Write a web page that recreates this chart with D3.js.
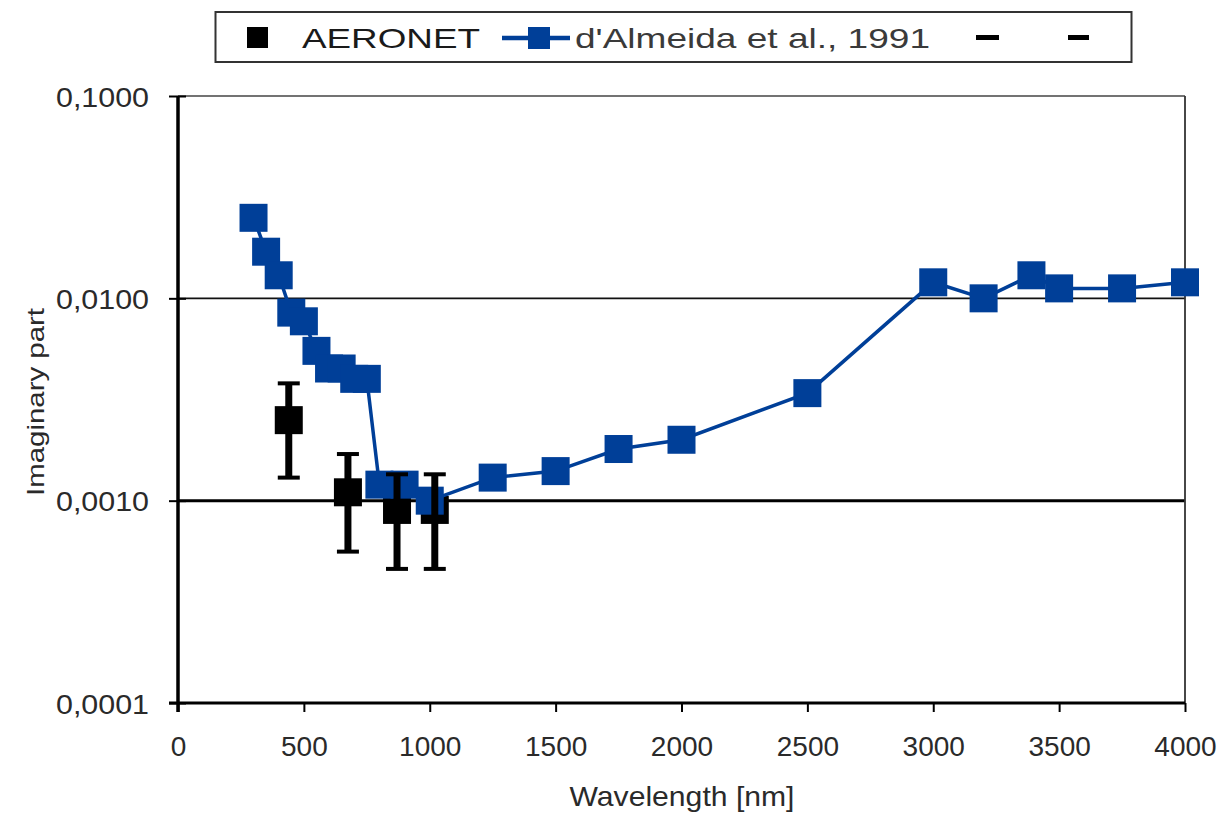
<!DOCTYPE html>
<html>
<head>
<meta charset="utf-8">
<script src="https://cdn.jsdelivr.net/npm/d3@7"></script>
<style>
  html, body { margin: 0; padding: 0; background: #fff; }
  svg { display: block; font-family: "Liberation Sans", Arial, sans-serif; }
</style>
</head>
<body>
<svg id="chart" width="1227" height="816"></svg>
<script>
// Wavelength grid and imaginary refractive index, d'Almeida et al. (1991)
const almeidaWavelength = [300, 350, 400, 450, 500, 550, 600, 650, 700, 750, 800, 900, 1000,
                           1250, 1500, 1750, 2000, 2500, 3000, 3200, 3390, 3500, 3750, 4000];
const almeidaImag = [0.025, 0.017, 0.013, 0.0085, 0.0077, 0.0055, 0.0045, 0.0045, 0.0040, 0.0040,
                     0.0012, 0.0012, 0.0010, 0.0013, 0.0014, 0.0018, 0.0020, 0.0034,
                     0.012, 0.010, 0.013, 0.0112, 0.0112, 0.012];

// AERONET retrievals with their uncertainty range
const aeronetWavelength = [440, 675, 870, 1020];
const aeronetImag = [0.0025, 0.0011, 0.0009, 0.0009];
const aeronetUpper = [0.0038, 0.0017, 0.00135, 0.00135];
const aeronetLower = [0.0013, 0.00056, 0.00046, 0.00046];

// Axis ticks
const xTicks = [0, 500, 1000, 1500, 2000, 2500, 3000, 3500, 4000];
const yTicks = [0.0001, 0.001, 0.01, 0.1];

const legendNames = ["AERONET", "d'Almeida et al., 1991"];

const blue = "#003f98";
const svg = d3.select("#chart");

const x = d3.scaleLinear().domain([0, 4000]).range([178, 1185]);
const y = d3.scaleLog().domain([0.0001, 0.1]).range([703, 96]);

const commaFmt = d3.formatLocale({decimal: ",", thousands: ".", grouping: [3], currency: ["", ""]}).format(".4f");

// Horizontal gridlines at each decade
const gridW = {0.0001: 0, 0.001: 3, 0.01: 1.8, 0.1: 1.5};
const gridC = {0.0001: "#000", 0.001: "#000", 0.01: "#111", 0.1: "#444"};
svg.append("g").selectAll("line")
  .data(yTicks.filter(d => d > 0.0001))
  .join("line")
  .attr("x1", x(0)).attr("x2", x(4000))
  .attr("y1", d => y(d)).attr("y2", d => y(d))
  .attr("stroke", d => gridC[d])
  .attr("stroke-width", d => gridW[d]);

// Right border of the plot area
svg.append("line")
  .attr("x1", x(4000)).attr("x2", x(4000))
  .attr("y1", y(0.1)).attr("y2", y(0.0001))
  .attr("stroke", "#333").attr("stroke-width", 1.8);

// Y axis
const yAxis = svg.append("g")
  .attr("transform", `translate(${x(0)},0)`)
  .call(d3.axisLeft(y).tickValues(yTicks).tickFormat(commaFmt).tickSize(9).tickSizeOuter(0).tickPadding(20));
yAxis.select(".domain").remove();
yAxis.selectAll(".tick line").attr("stroke", "#000").attr("stroke-width", 2).attr("x2", -9).attr("x1", 8);
yAxis.selectAll(".tick text")
  .attr("font-size", 28).attr("fill", "#2a2a2a")
  .attr("font-family", "Liberation Sans, Arial, sans-serif")
  .attr("textLength", 93).attr("lengthAdjust", "spacingAndGlyphs")
  .attr("dy", "0.36em");

// X axis
const xAxis = svg.append("g")
  .attr("transform", `translate(0,${y(0.0001)})`)
  .call(d3.axisBottom(x).tickValues(xTicks).tickFormat(d3.format("d")).tickSize(9).tickSizeOuter(0).tickPadding(24));
xAxis.select(".domain").remove();
xAxis.selectAll(".tick line").attr("stroke", "#000").attr("stroke-width", 2);
xAxis.selectAll(".tick text")
  .attr("font-size", 28).attr("fill", "#2a2a2a")
  .attr("font-family", "Liberation Sans, Arial, sans-serif");

// Axis lines
svg.append("line")
  .attr("x1", x(0)).attr("x2", x(0))
  .attr("y1", y(0.1)).attr("y2", y(0.0001) + 9)
  .attr("stroke", "#000").attr("stroke-width", 3.5);
svg.append("line")
  .attr("x1", x(0) - 9).attr("x2", x(4000))
  .attr("y1", y(0.0001)).attr("y2", y(0.0001))
  .attr("stroke", "#000").attr("stroke-width", 3);

// AERONET markers
const sq = 28;
svg.append("g").selectAll("rect")
  .data(aeronetWavelength)
  .join("rect")
  .attr("x", (d) => x(d) - sq / 2)
  .attr("y", (d, i) => y(aeronetImag[i]) - sq / 2)
  .attr("width", sq).attr("height", sq)
  .attr("fill", "#000");

// d'Almeida line and markers
const pts = almeidaWavelength.map((w, i) => [w, almeidaImag[i]]);
svg.append("path")
  .datum(pts)
  .attr("fill", "none")
  .attr("stroke", blue)
  .attr("stroke-width", 3.5)
  .attr("d", d3.line().x(d => x(d[0])).y(d => y(d[1])));
svg.append("g").selectAll("rect")
  .data(pts)
  .join("rect")
  .attr("x", d => x(d[0]) - sq / 2)
  .attr("y", d => y(d[1]) - sq / 2)
  .attr("width", sq).attr("height", sq)
  .attr("fill", blue);

// AERONET error bars
const eb = svg.append("g").attr("stroke", "#000");
aeronetWavelength.forEach((w, i) => {
  const cx = x(w);
  eb.append("line").attr("x1", cx).attr("x2", cx)
    .attr("y1", y(aeronetUpper[i])).attr("y2", y(aeronetLower[i]))
    .attr("stroke-width", 7);
  [aeronetUpper[i], aeronetLower[i]].forEach(v => {
    eb.append("line").attr("x1", cx - 11).attr("x2", cx + 11)
      .attr("y1", y(v)).attr("y2", y(v))
      .attr("stroke-width", 4);
  });
});

// Axis titles
svg.append("text")
  .attr("x", 682).attr("y", 806)
  .attr("text-anchor", "middle")
  .attr("font-size", 28).attr("fill", "#2a2a2a")
  .attr("textLength", 225).attr("lengthAdjust", "spacingAndGlyphs")
  .text("Wavelength [nm]");
svg.append("text")
  .attr("transform", "translate(44,402) rotate(-90)")
  .attr("text-anchor", "middle")
  .attr("font-size", 24).attr("fill", "#2a2a2a")
  .attr("textLength", 188).attr("lengthAdjust", "spacingAndGlyphs")
  .text("Imaginary part");

// Legend
const lg = svg.append("g");
lg.append("rect")
  .attr("x", 215.5).attr("y", 12).attr("width", 916).attr("height", 50)
  .attr("fill", "#fff").attr("stroke", "#333").attr("stroke-width", 2);
lg.append("rect")
  .attr("x", 247).attr("y", 27).attr("width", 21).attr("height", 21).attr("fill", "#000");
lg.append("text")
  .attr("x", 302).attr("y", 48)
  .attr("font-size", 28).attr("fill", "#1a1a1a")
  .attr("textLength", 178).attr("lengthAdjust", "spacingAndGlyphs")
  .text(legendNames[0]);
lg.append("line")
  .attr("x1", 502).attr("x2", 570).attr("y1", 38).attr("y2", 38)
  .attr("stroke", blue).attr("stroke-width", 4.5);
lg.append("rect")
  .attr("x", 528).attr("y", 27).attr("width", 22).attr("height", 22).attr("fill", blue);
lg.append("text")
  .attr("x", 575).attr("y", 48)
  .attr("font-size", 28).attr("fill", "#3a3a3a")
  .attr("textLength", 355).attr("lengthAdjust", "spacingAndGlyphs")
  .text(legendNames[1]);
// Legend keys for the two (unnamed) error-bar series
[[976, 999], [1068, 1089]].forEach(([a, b]) => {
  lg.append("line")
    .attr("x1", a).attr("x2", b).attr("y1", 37.5).attr("y2", 37.5)
    .attr("stroke", "#000").attr("stroke-width", 5);
});
</script>
</body>
</html>
